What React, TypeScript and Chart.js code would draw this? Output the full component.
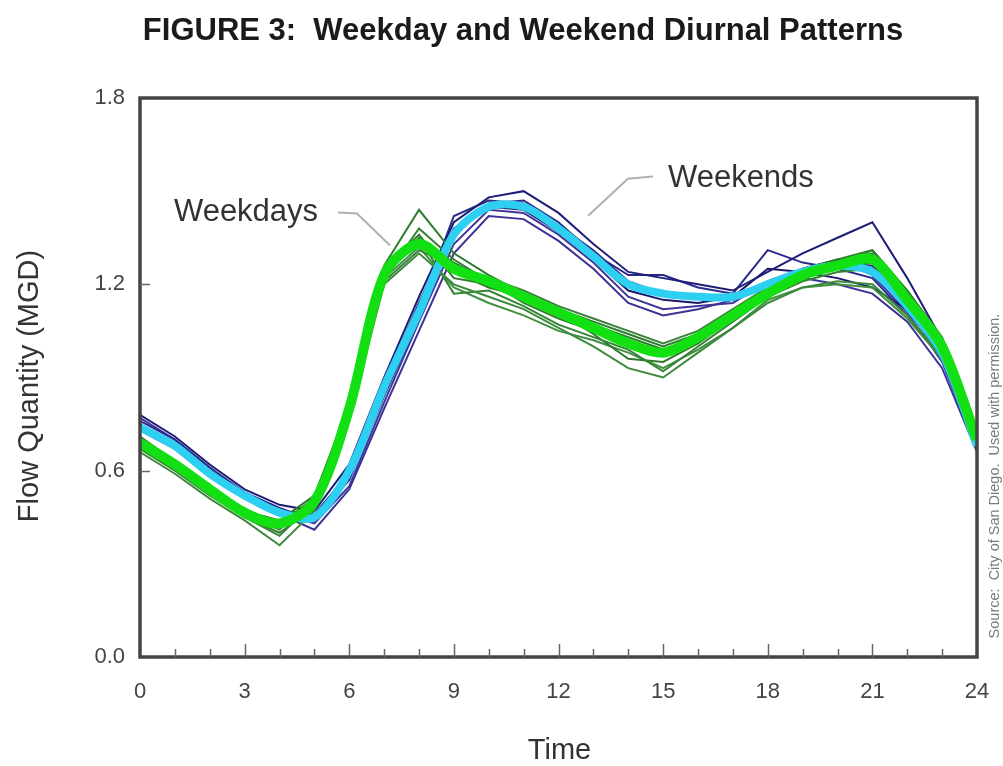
import React, { useEffect, useRef } from "react";
import { Chart, registerables } from "chart.js";

Chart.register(...registerables);

// ---------- data ----------
const hours = [0, 1, 2, 3, 4, 5, 6, 7, 8, 9, 10, 11, 12, 13, 14, 15, 16, 17, 18, 19, 20, 21, 22, 23, 24];
const xTickValues = [0, 3, 6, 9, 12, 15, 18, 21, 24];
const yTickValues = [0, 0.6, 1.2, 1.8];

// individual weekend days (MGD)
const weekend1 = [0.78, 0.71, 0.62, 0.54, 0.49, 0.47, 0.62, 0.9, 1.16, 1.4, 1.48, 1.5, 1.43, 1.33, 1.24, 1.22, 1.2, 1.18, 1.24, 1.3, 1.35, 1.4, 1.22, 1.02, 0.7];
const weekend2 = [0.76, 0.7, 0.61, 0.53, 0.48, 0.44, 0.57, 0.84, 1.09, 1.36, 1.46, 1.47, 1.4, 1.3, 1.23, 1.23, 1.19, 1.17, 1.31, 1.27, 1.25, 1.22, 1.1, 0.96, 0.68];
const weekend3 = [0.73, 0.67, 0.58, 0.51, 0.46, 0.41, 0.54, 0.8, 1.05, 1.3, 1.42, 1.41, 1.34, 1.25, 1.14, 1.1, 1.12, 1.15, 1.2, 1.22, 1.2, 1.17, 1.08, 0.93, 0.66];
const weekend4 = [0.75, 0.68, 0.6, 0.52, 0.47, 0.45, 0.6, 0.88, 1.14, 1.38, 1.45, 1.44, 1.37, 1.28, 1.18, 1.15, 1.14, 1.16, 1.25, 1.24, 1.22, 1.19, 1.12, 0.97, 0.67];
const weekend5 = [0.74, 0.69, 0.59, 0.53, 0.47, 0.46, 0.59, 0.85, 1.12, 1.42, 1.47, 1.46, 1.39, 1.31, 1.21, 1.17, 1.16, 1.15, 1.19, 1.23, 1.27, 1.26, 1.14, 0.99, 0.69];
const weekend6 = [0.77, 0.7, 0.61, 0.52, 0.46, 0.43, 0.55, 0.82, 1.08, 1.33, 1.44, 1.43, 1.36, 1.27, 1.16, 1.12, 1.13, 1.14, 1.21, 1.25, 1.28, 1.23, 1.11, 0.95, 0.67];

// individual weekdays (MGD)
const weekday1 = [0.7, 0.63, 0.55, 0.47, 0.43, 0.51, 0.82, 1.26, 1.44, 1.3, 1.23, 1.17, 1.12, 1.08, 1.04, 1.0, 1.04, 1.11, 1.18, 1.24, 1.28, 1.31, 1.18, 1.02, 0.71];
const weekday2 = [0.68, 0.61, 0.53, 0.45, 0.4, 0.48, 0.79, 1.22, 1.38, 1.28, 1.21, 1.14, 1.09, 1.05, 1.0, 0.97, 1.02, 1.09, 1.16, 1.22, 1.25, 1.27, 1.15, 1.0, 0.7];
const weekday3 = [0.66, 0.59, 0.51, 0.44, 0.36, 0.47, 0.77, 1.2, 1.3, 1.2, 1.16, 1.12, 1.06, 1.0, 0.93, 0.9, 0.98, 1.06, 1.14, 1.19, 1.21, 1.2, 1.1, 0.97, 0.69];
const weekday4 = [0.71, 0.63, 0.55, 0.47, 0.44, 0.52, 0.81, 1.24, 1.33, 1.24, 1.19, 1.16, 1.1, 1.07, 1.03, 0.99, 1.03, 1.1, 1.17, 1.23, 1.27, 1.3, 1.17, 1.01, 0.71];
const weekday5 = [0.69, 0.62, 0.54, 0.46, 0.42, 0.49, 0.8, 1.23, 1.35, 1.17, 1.18, 1.13, 1.07, 1.03, 0.99, 0.92, 1.0, 1.08, 1.16, 1.21, 1.24, 1.25, 1.13, 0.99, 0.7];
const weekday6 = [0.67, 0.6, 0.52, 0.45, 0.39, 0.5, 0.78, 1.21, 1.31, 1.26, 1.22, 1.18, 1.13, 1.09, 1.05, 1.01, 1.05, 1.12, 1.19, 1.25, 1.28, 1.29, 1.16, 1.0, 0.7];
const weekday7 = [0.7, 0.62, 0.54, 0.46, 0.41, 0.51, 0.81, 1.25, 1.36, 1.22, 1.2, 1.15, 1.11, 1.04, 0.96, 0.95, 1.01, 1.09, 1.17, 1.22, 1.25, 1.27, 1.14, 1.0, 0.71];
const weekday8 = [0.68, 0.61, 0.53, 0.45, 0.42, 0.5, 0.8, 1.22, 1.32, 1.19, 1.14, 1.1, 1.05, 1.02, 0.98, 0.93, 0.99, 1.06, 1.15, 1.19, 1.2, 1.19, 1.09, 0.96, 0.69];
const weekday9 = [0.69, 0.62, 0.54, 0.46, 0.43, 0.49, 0.79, 1.24, 1.34, 1.27, 1.21, 1.16, 1.11, 1.06, 1.02, 0.98, 1.03, 1.1, 1.17, 1.23, 1.26, 1.31, 1.18, 1.03, 0.71];

// average patterns
const weekdayAverage = [0.69, 0.62, 0.54, 0.465, 0.43, 0.5, 0.8, 1.23, 1.33, 1.25, 1.21, 1.16, 1.11, 1.06, 1.01, 0.98, 1.03, 1.1, 1.17, 1.23, 1.26, 1.28, 1.15, 1.0, 0.7];
const weekendAverage = [0.74, 0.68, 0.59, 0.52, 0.465, 0.45, 0.6, 0.87, 1.11, 1.36, 1.45, 1.45, 1.38, 1.29, 1.2, 1.17, 1.16, 1.16, 1.2, 1.24, 1.26, 1.24, 1.13, 0.98, 0.68];

const weekendDays = [weekend1, weekend2, weekend3, weekend4, weekend5, weekend6];
const weekdayDays = [weekday1, weekday2, weekday3, weekday4, weekday5, weekday6, weekday7, weekday8, weekday9];

// text
const titleText = "FIGURE 3:  Weekday and Weekend Diurnal Patterns";
const xTitle = "Time";
const yTitle = "Flow Quantity (MGD)";
const sourceText = "Source:  City of San Diego.  Used with permission.";
const weekdaysLabel = "Weekdays";
const weekendsLabel = "Weekends";

// annotation anchors in data coordinates [hour, MGD]
const weekdaysTextAt = [3.04, 1.43];
const weekdaysLeader = [[5.68, 1.431], [6.22, 1.428], [7.17, 1.325]];
const weekendsTextAt = [17.23, 1.54];
const weekendsLeader = [[14.71, 1.547], [13.99, 1.54], [12.85, 1.421]];

// ---------- styles ----------
const FONT = "'Liberation Sans', Arial, Helvetica, sans-serif";
const weekendColors = ["#1e1e78", "#2a2a8c", "#3a3296", "#18186e", "#2c2c88", "#40369a"];
const weekdayColors = ["#2e7d2e", "#347f34", "#3d8a3d", "#2a762a", "#338533", "#3b823b", "#2f7a2f", "#409040", "#317c31"];

const toPts = (arr: number[]) => arr.map((v, i) => ({ x: hours[i], y: v }));

const decorPlugin = {
  id: "decor",
  afterDatasetsDraw(chart: any) {
    const { ctx, chartArea: a, scales } = chart;
    const xs = scales.x;
    const ys = scales.y;
    ctx.save();
    // frame
    ctx.strokeStyle = "#444";
    ctx.lineWidth = 3.5;
    ctx.strokeRect(a.left, a.top, a.right - a.left, a.bottom - a.top);
    // x tick marks (inside)
    ctx.lineWidth = 1.5;
    ctx.strokeStyle = "#666";
    for (let h = 1; h < 24; h++) {
      const px = Math.round(xs.getPixelForValue(h)) + 0.5;
      const len = h % 3 === 0 ? 13 : 8;
      ctx.beginPath();
      ctx.moveTo(px, a.bottom);
      ctx.lineTo(px, a.bottom - len);
      ctx.stroke();
    }
    // y tick marks (inside)
    for (const v of yTickValues) {
      if (v <= 0 || v >= 1.8) continue;
      const py = Math.round(ys.getPixelForValue(v)) + 0.5;
      ctx.beginPath();
      ctx.moveTo(a.left, py);
      ctx.lineTo(a.left + 10, py);
      ctx.stroke();
    }
    // leader lines
    ctx.strokeStyle = "#b0b0b0";
    ctx.lineWidth = 2;
    for (const pts of [weekdaysLeader, weekendsLeader]) {
      ctx.beginPath();
      pts.forEach((p, i) => {
        const px = xs.getPixelForValue(p[0]);
        const py = ys.getPixelForValue(p[1]);
        if (i === 0) ctx.moveTo(px, py);
        else ctx.lineTo(px, py);
      });
      ctx.stroke();
    }
    // annotation text
    ctx.fillStyle = "#333";
    ctx.font = `31px ${FONT}`;
    ctx.textAlign = "center";
    ctx.textBaseline = "middle";
    ctx.fillText(weekdaysLabel, xs.getPixelForValue(weekdaysTextAt[0]), ys.getPixelForValue(weekdaysTextAt[1]));
    ctx.fillText(weekendsLabel, xs.getPixelForValue(weekendsTextAt[0]), ys.getPixelForValue(weekendsTextAt[1]));

    // chart title
    ctx.fillStyle = "#1a1a1a";
    ctx.font = `bold 31px ${FONT}`;
    ctx.fillText(titleText, 523, 31);

    // x axis title
    ctx.fillStyle = "#333";
    ctx.font = `29px ${FONT}`;
    ctx.fillText(xTitle, (a.left + a.right) / 2 + 1, 751);

    // y axis title
    ctx.save();
    ctx.translate(30, 386);
    ctx.rotate(-Math.PI / 2);
    ctx.fillText(yTitle, 0, 0);
    ctx.restore();

    // source text
    ctx.save();
    ctx.translate(995, 476);
    ctx.rotate(-Math.PI / 2);
    ctx.fillStyle = "#7a7a7a";
    ctx.font = `14.5px ${FONT}`;
    ctx.fillText(sourceText, 0, 0);
    ctx.restore();
    ctx.restore();
  },
};

export default function App() {
  const ref = useRef<HTMLCanvasElement>(null);
  useEffect(() => {
    const datasets: any[] = [];
    weekendDays.forEach((d, i) =>
      datasets.push({
        data: toPts(d),
        borderColor: weekendColors[i],
        borderWidth: 2,
        pointRadius: 0,
        tension: 0,
        order: 4,
      })
    );
    weekdayDays.forEach((d, i) =>
      datasets.push({
        data: toPts(d),
        borderColor: weekdayColors[i],
        borderWidth: 2,
        pointRadius: 0,
        tension: 0,
        order: 3,
      })
    );
    datasets.push({
      data: toPts(weekendAverage),
      borderColor: "#2ed0f2",
      borderWidth: 8,
      pointRadius: 0,
      tension: 0.3,
      order: 2,
    });
    datasets.push({
      data: toPts(weekdayAverage),
      borderColor: "#12e012",
      borderWidth: 10,
      pointRadius: 0,
      tension: 0.3,
      order: 1,
    });

    const chart = new Chart(ref.current!, {
      type: "line",
      data: { datasets },
      plugins: [decorPlugin],
      options: {
        responsive: false,
        animation: false,
        devicePixelRatio: 1,
        layout: { padding: { left: 0, right: 26, top: 98, bottom: 0 } },
        plugins: {
          legend: { display: false },
          tooltip: { enabled: false },
          title: { display: false },
        },
        scales: {
          x: {
            type: "linear",
            min: 0,
            max: 24,
            afterFit: (s: any) => {
              s.height = 109;
              s.paddingLeft = 0;
              s.paddingRight = 0;
            },
            afterBuildTicks: (s: any) => {
              s.ticks = xTickValues.map((v) => ({ value: v }));
            },
            grid: { display: false, drawTicks: false },
            border: { display: false },
            ticks: {
              color: "#444",
              padding: 22,
              font: { family: FONT, size: 22 },
              callback: (v: any) => String(v),
            },
          },
          y: {
            type: "linear",
            min: 0,
            max: 1.8,
            afterFit: (s: any) => {
              s.width = 140;
              s.paddingTop = 0;
              s.paddingBottom = 0;
            },
            afterBuildTicks: (s: any) => {
              s.ticks = yTickValues.map((v) => ({ value: v }));
            },
            grid: { display: false, drawTicks: false },
            border: { display: false },
            ticks: {
              color: "#444",
              padding: 15,
              font: { family: FONT, size: 22 },
              callback: (v: any) => Number(v).toFixed(1),
            },
          },
        },
      },
    });
    return () => chart.destroy();
  }, []);

  return (
    <div style={{ position: "fixed", left: 0, top: 0, width: 1003, height: 766, background: "#fff" }}>
      <canvas ref={ref} width={1003} height={766} style={{ display: "block", width: 1003, height: 766 }} />
    </div>
  );
}
